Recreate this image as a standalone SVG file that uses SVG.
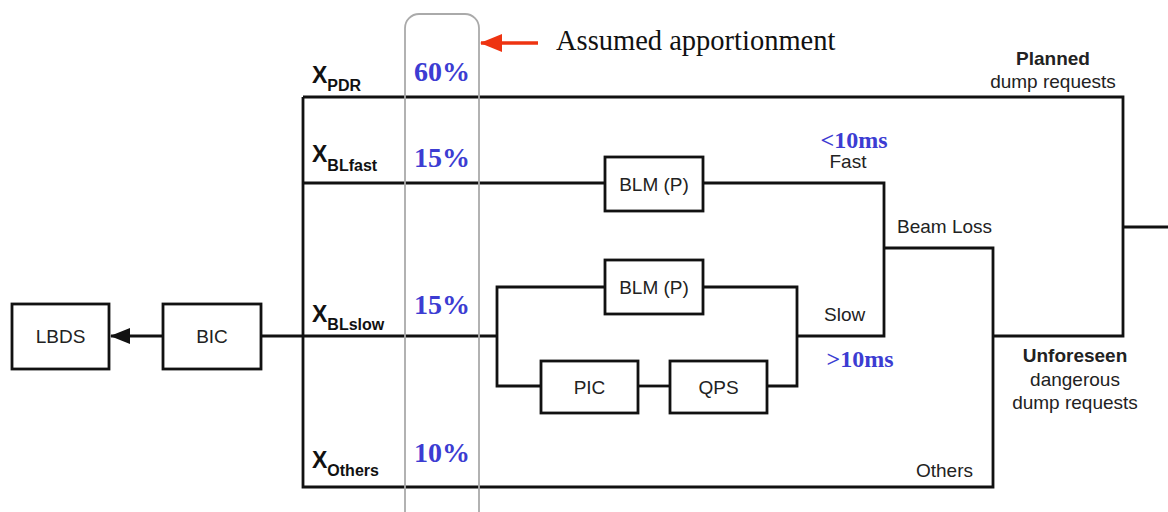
<svg xmlns="http://www.w3.org/2000/svg" width="1168" height="512" viewBox="0 0 1168 512">
<style>
.box{fill:#fff;stroke:#111;stroke-width:2.8}
.ln{fill:none;stroke:#111;stroke-width:2.8}
.t{font-family:"Liberation Sans",Arial,sans-serif;font-size:19px;fill:#222}
.b{font-weight:bold}
.x{font-family:"Liberation Sans",Arial,sans-serif;font-weight:bold;fill:#111}
.pct{font-family:"Liberation Serif","Times New Roman",serif;font-weight:bold;font-size:28px;fill:#3c3cd2}
.ms{font-family:"Liberation Serif","Times New Roman",serif;font-weight:bold;font-size:24px;fill:#3c3cd2}
</style>
<defs>
<marker id="ah" markerWidth="20" markerHeight="16" refX="19" refY="8" orient="auto" markerUnits="userSpaceOnUse" viewBox="0 0 20 16">
<path d="M0,0 L20,8 L0,16 z" fill="#111"/>
</marker>
<marker id="rh" markerWidth="22" markerHeight="18" refX="21" refY="9" orient="auto" markerUnits="userSpaceOnUse" viewBox="0 0 22 18">
<path d="M0,0 L22,9 L0,18 z" fill="#ee3311"/>
</marker>
</defs>
<rect width="1168" height="512" fill="#fff"/>
<g id="connectors">
<path class="ln" d="M303,97 H1123 V336 H993"/>
<path class="ln" d="M1123,227 H1168"/>
<path class="ln" d="M303,97 V487 H993 V248 H884"/>
<path class="ln" d="M303,183 H605"/>
<path class="ln" d="M703,183 H884 V336 H797"/>
<path class="ln" d="M262,336 H497"/>
<path class="ln" d="M605,287 H497 V386 H541"/>
<path class="ln" d="M703,287 H797 V386 H767"/>
<path class="ln" d="M638,386 H670"/>
<path class="ln" d="M163,336 H111" marker-end="url(#ah)"/>
</g>
<g id="lbds"><rect class="box" x="12" y="304" width="97" height="65"/><text class="t" x="60.5" y="343" text-anchor="middle">LBDS</text></g>
<g id="bic"><rect class="box" x="163" y="304" width="98" height="65"/><text class="t" x="212" y="343" text-anchor="middle">BIC</text></g>
<g id="blm-fast"><rect class="box" x="605" y="157" width="98" height="54"/><text class="t" x="654" y="191" text-anchor="middle">BLM (P)</text></g>
<g id="blm-slow"><rect class="box" x="605" y="260" width="98" height="54"/><text class="t" x="654" y="294" text-anchor="middle">BLM (P)</text></g>
<g id="pic"><rect class="box" x="541" y="361" width="97" height="52"/><text class="t" x="589.5" y="394" text-anchor="middle">PIC</text></g>
<g id="qps"><rect class="box" x="670" y="361" width="97" height="52"/><text class="t" x="718.5" y="394" text-anchor="middle">QPS</text></g>
<g id="apportionment">
<rect x="405" y="14" width="74" height="520" rx="14" fill="none" stroke="#aaa" stroke-width="1.8"/>
<line x1="538" y1="43" x2="481" y2="43" stroke="#ee3311" stroke-width="3.5" marker-end="url(#rh)"/>
<text x="556" y="50" font-family="'Liberation Serif','Times New Roman',serif" font-size="28.5" fill="#111">Assumed apportionment</text>
<text class="pct" x="442" y="81" text-anchor="middle">60%</text>
<text class="pct" x="442" y="167" text-anchor="middle">15%</text>
<text class="pct" x="442" y="314" text-anchor="middle">15%</text>
<text class="pct" x="442" y="462" text-anchor="middle">10%</text>
</g>
<g id="labels">
<text class="x" x="312" y="83" font-size="23">X<tspan font-size="16" dy="8">PDR</tspan></text>
<text class="x" x="312" y="162" font-size="23">X<tspan font-size="16" dy="9">BLfast</tspan></text>
<text class="x" x="312" y="322" font-size="23">X<tspan font-size="16" dy="8">BLslow</tspan></text>
<text class="x" x="312" y="468" font-size="23">X<tspan font-size="16" dy="8">Others</tspan></text>
<text class="t b" x="1053" y="65" text-anchor="middle">Planned</text>
<text class="t" x="1053" y="88" text-anchor="middle">dump requests</text>
<text class="ms" x="854" y="148" text-anchor="middle">&lt;10ms</text>
<text class="t" x="848" y="168" text-anchor="middle">Fast</text>
<text class="t" x="897" y="233">Beam Loss</text>
<text class="t" x="824" y="321">Slow</text>
<text class="ms" x="860" y="367" text-anchor="middle">&gt;10ms</text>
<text class="t b" x="1075" y="362" text-anchor="middle">Unforeseen</text>
<text class="t" x="1075" y="386" text-anchor="middle">dangerous</text>
<text class="t" x="1075" y="409" text-anchor="middle">dump requests</text>
<text class="t" x="916" y="477">Others</text>
</g>
</svg>
